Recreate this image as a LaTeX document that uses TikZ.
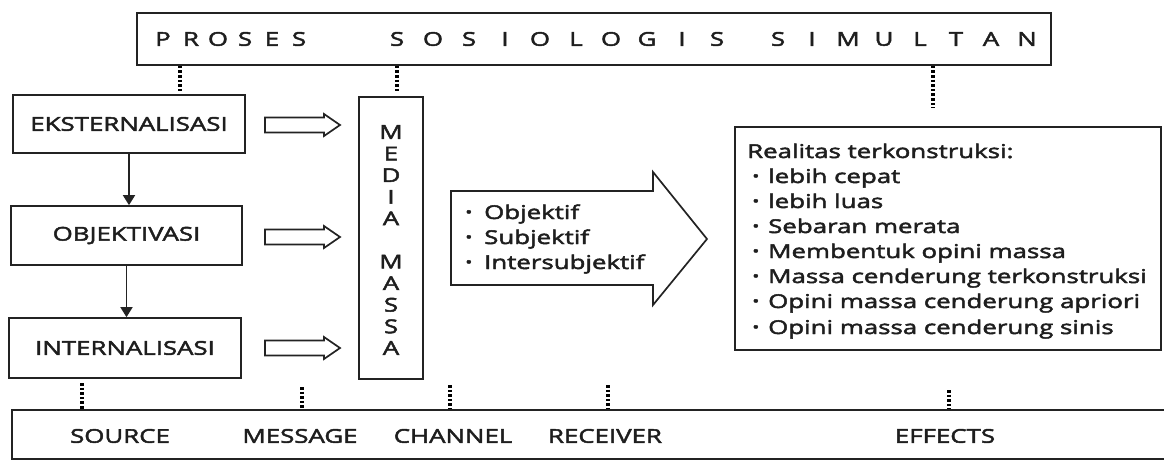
\documentclass[tikz,border=0pt]{standalone}
\usepackage{fontspec}
\setmainfont{Open Sans}[FakeStretch=1.36, FakeBold=2.5]
\usetikzlibrary{arrows.meta,calc}
\definecolor{lc}{RGB}{35,35,35}
\definecolor{tc}{RGB}{30,30,30}
\newcommand\bul{\raisebox{0.1em}{\scalebox{0.75}{•}}}
\begin{document}
\begin{tikzpicture}[x=1pt,y=-1pt,
  box/.style={draw=lc, line width=1.7pt, inner sep=0pt, text=tc},
  caps/.style={font=\fontsize{19}{22}\selectfont},
  lbl/.style={font=\fontsize{19}{22}\selectfont, text=tc, inner sep=0pt},
  ttl/.style={font=\fontsize{19}{22}\selectfont, text=tc, inner sep=0pt},
  item/.style={font=\fontsize{19}{22}\selectfont, text=tc, inner sep=0pt, anchor=base west},
  dotline/.style={draw=black, line width=3.2pt, dash pattern=on 2.6pt off 2pt},
  flow/.style={draw=lc, line width=1.7pt, -{Triangle[length=10pt,width=12pt]}},
  hollow/.style={draw=lc, line width=1.7pt, fill=white, line join=miter}]
\useasboundingbox (0,0) rectangle (1164,463);

% top title box
\node[box, minimum width=914pt, minimum height=52pt] (title) at (594,39) {};
\foreach \ch/\xx [count=\i] in {P/163,R/191,O/218,S/245,E/272,S/299,
  S/397,O/433,S/469,I/505,O/540,L/576,O/611,G/647,I/682,S/717,
  S/778,I/812,M/848,U/884,L/920,T/956,A/991,N/1027}
  \node[ttl] (t\i) at (\xx,39) {\ch};

% left column
\node[box, caps, minimum width=232pt, minimum height=58pt] (eks) at (129,124) {EKSTERNALISASI};
\node[box, caps, minimum width=231pt, minimum height=59pt] (obj) at (126.5,235.5) {OBJEKTIVASI};
\node[box, caps, minimum width=232pt, minimum height=60pt] (int) at (125,348) {INTERNALISASI};
\draw[flow] (eks.south) -- (eks.south |- obj.north);
\draw[flow] (obj.south) -- (obj.south |- int.north);

% media massa
\node[box, minimum width=64pt, minimum height=282pt] (media) at (391,238) {};
\node[font=\fontsize{19}{21.6}\selectfont, text=tc, align=center, inner sep=0pt] (mtext) at (391,240)
  {M\\E\\D\\I\\A\\[21.6pt]M\\A\\S\\S\\A};

% hollow block arrows
\foreach \c in {125,237,348}
  \draw[hollow] (265,\c-7.5) -- (324,\c-7.5) -- (324,\c-11) -- (340,\c) -- (324,\c+11)
    -- (324,\c+7.5) -- (265,\c+7.5) -- cycle;

% big arrow
\draw[hollow] (451,191) -- (653,191) -- (653,172) -- (707,239) -- (653,305) -- (653,285) -- (451,285) -- cycle;
\node[item] (b1) at (465,219) {\makebox[19pt][l]{\bul}Objektif};
\node[item] (b2) at (465,244) {\makebox[19pt][l]{\bul}Subjektif};
\node[item] (b3) at (465,269) {\makebox[19pt][l]{\bul}Intersubjektif};

% effects box
\node[box, minimum width=426pt, minimum height=223pt] (real) at (948,238.5) {};
\node[item] (r0) at (747,158) {Realitas terkonstruksi:};
\foreach \txt/\yy [count=\i] in {lebih cepat/183, lebih luas/208, Sebaran merata/233,
  Membentuk opini massa/258, Massa cenderung terkonstruksi/283,
  Opini massa cenderung apriori/308, Opini massa cenderung sinis/334}
  \node[item] (r\i) at (752,\yy) {\makebox[16pt][l]{\bul}\txt};

% bottom bar
\node[box, minimum width=1168pt, minimum height=49pt] (bot) at (596,434.5) {};
\node[lbl] (src) at (120,436) {SOURCE};
\node[lbl] (msg) at (300,436) {MESSAGE};
\node[lbl] (chn) at (453,436) {CHANNEL};
\node[lbl] (rcv) at (605,436) {RECEIVER};
\node[lbl] (eff) at (945,436) {EFFECTS};

% dotted links
\coordinate (u1) at (180,92);
\coordinate (u2) at (397,92);
\coordinate (u3) at (933,108);
\draw[dotline] (u1 |- title.south) -- (u1);
\draw[dotline] (u2 |- title.south) -- (u2);
\draw[dotline] (u3 |- title.south) -- (u3);
\coordinate (l1) at (82,383);
\coordinate (l2) at (302,387);
\coordinate (l3) at (450,385);
\coordinate (l4) at (608,385);
\coordinate (l5) at (949,390);
\foreach \k in {1,...,5}
  \draw[dotline] (l\k) -- (l\k |- bot.north);
\end{tikzpicture}
\end{document}
